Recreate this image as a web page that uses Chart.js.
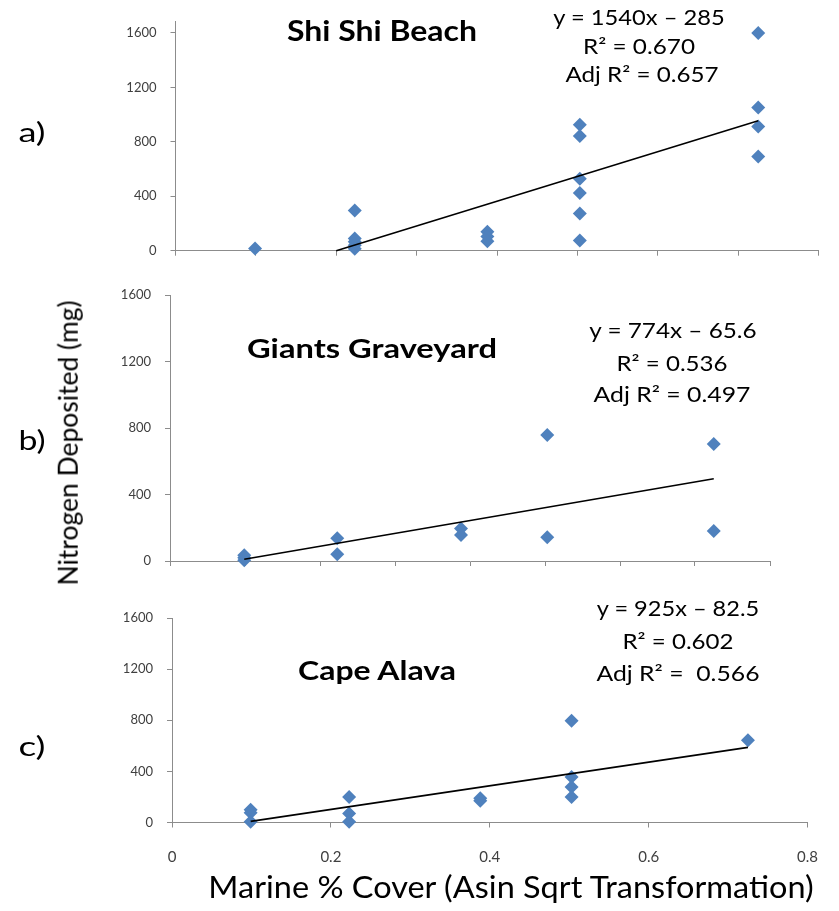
<!DOCTYPE html>
<html><head><meta charset="utf-8">
<script src="https://cdn.jsdelivr.net/npm/chart.js@4.4.1/dist/chart.umd.min.js"></script>
<style>
html,body{margin:0;padding:0;background:#fff;}
#wrap{position:relative;width:839px;height:911px;overflow:hidden;background:#fff;}
canvas{position:absolute;left:0;top:0;}
.t{position:absolute;white-space:pre;color:#000;transform-origin:center center;}
</style></head><body>
<div id="wrap">
<canvas id="ca" width="839" height="911"></canvas>
<canvas id="cb" width="839" height="911"></canvas>
<canvas id="cc" width="839" height="911"></canvas>
</div>
<script>
// ---------------- data ----------------
const yTickValues = [0, 400, 800, 1200, 1600];
const xTickLabelsC = ['0', '0.2', '0.4', '0.6', '0.8'];

// a) Shi Shi Beach
const shiShiX = [0.099, 0.223, 0.223, 0.223, 0.223, 0.223, 0.388, 0.388, 0.388,
                 0.503, 0.503, 0.503, 0.503, 0.503, 0.503, 0.725, 0.725, 0.725, 0.725];
const shiShiY = [17, 296, 90, 65, 40, 15, 140, 105, 70,
                 925, 843, 529, 424, 273, 75, 1600, 1053, 913, 692];
const shiShiFitX = [0.2, 0.725];
const shiShiFitY = [0, 955];

// b) Giants Graveyard
const giantsX = [0.099, 0.099, 0.099, 0.223, 0.223, 0.388, 0.388, 0.503, 0.503, 0.725, 0.725];
const giantsY = [5, 20, 35, 137, 40, 196, 156, 758, 143, 704, 180];
const giantsFitX = [0.099, 0.725];
const giantsFitY = [11, 495];

// c) Cape Alava
const alavaX = [0.099, 0.099, 0.099, 0.223, 0.223, 0.223, 0.388, 0.388,
                0.503, 0.503, 0.503, 0.503, 0.725];
const alavaY = [100, 77, 5, 200, 70, 5, 190, 170, 796, 356, 278, 200, 643];
const alavaFitX = [0.099, 0.725];
const alavaFitY = [9, 588];

// ---------------- drawing ----------------
const FONT = "Lato, 'Open Sans', 'Liberation Sans', sans-serif";
const AXIS_COLOR = '#8c8c8c';
const POINT_COLOR = '#4F81BD';
const H = 911, W = 839;

function zip(xs, ys) { return xs.map((x, i) => ({ x: x, y: ys[i] })); }

function makePanel(id, xs, ys, fx, fy, box, yMax, xStep, showX) {
  return new Chart(document.getElementById(id), {
    type: 'scatter',
    data: {
      datasets: [
        { data: zip(fx, fy), showLine: true, borderColor: '#000', borderWidth: 1.6,
          pointRadius: 0, fill: false, clip: false },
        { data: zip(xs, ys), pointStyle: 'rectRot', pointRadius: 7, pointHoverRadius: 7,
          backgroundColor: POINT_COLOR, borderColor: POINT_COLOR, borderWidth: 0, clip: false }
      ]
    },
    options: {
      responsive: false, animation: false, events: [],
      layout: { padding: { left: 0, top: box.t, right: W - box.r, bottom: 0 } },
      plugins: { legend: { display: false }, tooltip: { enabled: false } },
      scales: {
        x: {
          type: 'linear', min: 0, max: 0.8,
          grid: { drawOnChartArea: false, drawTicks: true, tickLength: 5, color: AXIS_COLOR },
          border: { color: AXIS_COLOR, width: 1 },
          ticks: {
            display: showX, stepSize: xStep, padding: 21, color: '#404040',
            font: { family: FONT, size: 15 },
            callback: (v) => {
              const i = Math.round(v / 0.2);
              return Math.abs(v - i * 0.2) < 1e-6 ? xTickLabelsC[i] : '';
            }
          },
          afterFit: (s) => { s.height = H - box.b; }
        },
        y: {
          type: 'linear', min: 0, max: yMax,
          grid: { drawOnChartArea: false, drawTicks: true, tickLength: 5, color: AXIS_COLOR },
          border: { color: AXIS_COLOR, width: 1 },
          ticks: { stepSize: 400, padding: 14, color: '#404040', font: { family: FONT, size: 13 },
                   callback: (v) => String(v) },
          afterBuildTicks: (a) => { a.ticks = yTickValues.map(v => ({ value: v })); },
          afterFit: (s) => { s.width = box.l; }
        }
      }
    }
  });
}

makePanel('ca', shiShiX, shiShiY, shiShiFitX, shiShiFitY, { l: 175.5, r: 818.5, t: 10, b: 250.7 }, 1682, 0.1, false);
makePanel('cb', giantsX, giantsY, giantsFitX, giantsFitY, { l: 170, r: 770, t: 295, b: 561 }, 1600, 0.1, false);
makePanel('cc', alavaX, alavaY, alavaFitX, alavaFitY, { l: 172, r: 820, t: 618, b: 822.5 }, 1600, 0.2, true);

// ---------------- text ----------------
const wrap = document.getElementById('wrap');
const mctx = document.createElement('canvas').getContext('2d');
function label(text, cx, cy, w, capH, bold, rot) {
  const fs = capH / 0.7165;
  const font = (bold ? 'bold ' : '') + fs.toFixed(2) + 'px ' + FONT;
  mctx.font = font;
  const sx = w / mctx.measureText(text).width;
  const d = document.createElement('div');
  d.className = 't';
  d.textContent = text;
  d.style.font = font;
  d.style.lineHeight = fs + 'px';
  d.style.left = cx + 'px';
  d.style.top = cy + 'px';
  if (rot) d.style.transform = 'translate(-50%,-50%) rotate(-90deg) scaleX(' + sx + ')';
  else d.style.transform = 'translate(-50%,-53%) scaleX(' + sx + ')';
  wrap.appendChild(d);
}

label('Shi Shi Beach', 382, 32, 190, 20, true);
label('y = 1540x \u2013 285', 639, 18, 172, 14.5);
label('R\u00B2 = 0.670', 639, 46.7, 112, 14.5);
label('Adj R\u00B2 = 0.657', 641.5, 75, 153, 14.5);

label('Giants Graveyard', 372, 348.7, 250, 19, true);
label('y = 774x \u2013 65.6', 673, 331, 168, 14.5);
label('R\u00B2 = 0.536', 672, 364, 111, 14.5);
label('Adj R\u00B2 = 0.497', 672, 395, 157, 14.5);

label('Cape Alava', 377, 671, 159, 19, true);
label('y = 925x \u2013 82.5', 678, 609, 163, 14.5);
label('R\u00B2 = 0.602', 678, 642, 111, 14.5);
label('Adj R\u00B2 =  0.566', 678, 674, 163, 14.5);

label('a)', 32, 133, 27, 19);
label('b)', 32, 441, 27, 19);
label('c)', 32, 747, 27, 19);
label('Nitrogen Deposited (mg)', 68, 443, 285, 19, false, true);
label('Marine % Cover (Asin Sqrt Transformation)', 510.5, 888, 607, 22);
</script>
</body></html>
